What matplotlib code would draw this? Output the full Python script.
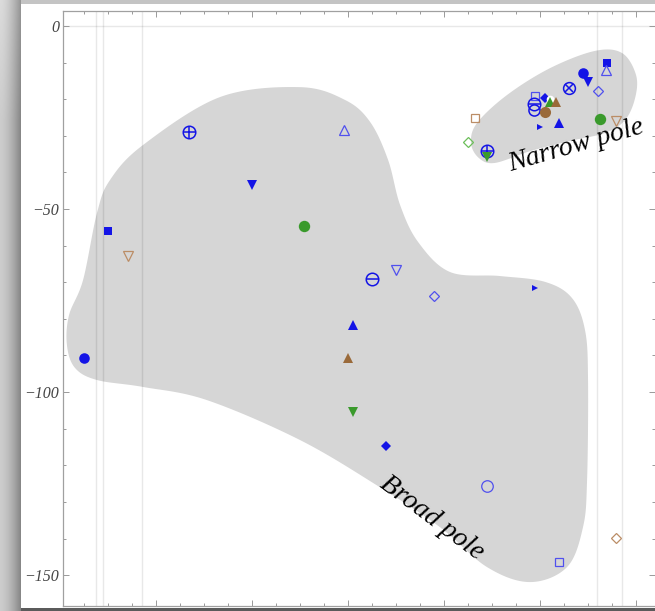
import numpy as np
import matplotlib
matplotlib.use("Agg")
import matplotlib.pyplot as plt
from matplotlib.ticker import MultipleLocator, FixedLocator

# ---------------- data ----------------
broad_x = [1.0, 2.0, 2.83, 5.375, 8.0, 10.17, 11.83, 13.0, 14.0, 15.58,
           12.2, 12.0, 12.2, 13.6, 17.8, 20.8, 23.17, 19.8]
broad_y = [-90.6, -56.0, -62.8, -29.0, -43.4, -54.6, -28.4, -69.0, -66.7, -73.8,
           -81.8, -90.7, -105.5, -114.8, -125.7, -146.4, -139.9, -71.6]
broad_style = ["blue_circle", "blue_square", "lbrown_down_open", "blue_oplus",
               "blue_down", "green_circle", "lblue_up_open", "blue_ominus",
               "lblue_down_open", "lblue_diamond_open", "blue_up", "brown_up",
               "green_down", "blue_diamond", "lblue_circle_open",
               "lblue_square_open", "lbrown_diamond_open", "blue_right"]

narrow_x = [17.3, 17.0, 17.8, 17.8, 19.8, 19.75, 19.75, 20.2, 20.4, 20.4,
            20.65, 20.2, 20.0, 20.8, 21.2, 21.8, 22.0, 22.4, 22.8, 22.75,
            22.5, 23.15]
narrow_y = [-25.1, -31.6, -34.1, -35.9, -19.1, -21.3, -23.0, -19.6, -19.9, -20.7,
            -20.7, -23.4, -27.7, -26.4, -17.0, -12.8, -15.4, -17.7, -10.0, -12.0,
            -25.4, -26.0]
narrow_style = ["lbrown_square_open", "lgreen_diamond_open", "blue_oplus",
                "green_down", "lblue_square_open", "blue_ominus",
                "blue_circle_open", "blue_diamond", "white_circle", "green_up",
                "brown_up", "brown_circle", "blue_right", "blue_up",
                "blue_otimes", "blue_circle", "blue_down", "lblue_diamond_open",
                "blue_square", "lblue_up_open", "green_circle", "lbrown_down_open"]

# outlines of the shaded regions (data units)
broad_outline_x = [10.0, 11.875, 12.92, 13.67, 14.17, 14.92, 16.25, 18.33, 20.21,
                   21.33, 21.875, 22.0, 21.96, 21.79, 21.125, 19.58, 17.79, 15.83,
                   13.33, 10.0, 6.125, 3.46, 1.54, 0.625, 0.29, 0.375, 0.96, 1.54,
                   2.08, 3.46, 6.67]
broad_outline_y = [-16.7, -20.2, -26.2, -36.6, -48.9, -59.0, -67.2, -68.3, -69.9,
                   -74.3, -83.1, -96.7, -124.0, -136.9, -147.8, -151.9, -147.8,
                   -136.9, -126.0, -113.1, -102.2, -98.6, -96.7, -93.4, -87.2,
                   -79.0, -69.4, -51.1, -42.1, -32.5, -19.4]
narrow_outline_x = [17.125, 17.375, 18.625, 20.42, 22.29, 23.42, 24.0, 23.96,
                    23.54, 22.71, 21.25, 19.58, 18.125, 17.46]
narrow_outline_y = [-32.0, -26.5, -18.85, -11.5, -6.8, -7.4, -13.4, -19.7,
                    -25.7, -29.2, -31.4, -34.2, -37.4, -36.1]

grid_x = [1.5, 1.79, 3.42, 22.375, 23.42]
ytick_vals = [0, -50, -100, -150]
ytick_labels = ["0", "\u221250", "\u2212100", "\u2212150"]

# ---------------- styles ----------------
B = "#1414e6"
LB = "#5050ee"
G = "#3a9a2c"
BR = "#9a6a3a"
LBR = "#bb8d66"
LG = "#6cbf5a"
OPEN_W = 0.9

def filled(m, ms, c):
    return [dict(marker=m, ms=ms, mfc=c, mec=c, mew=0)]

def opened(m, ms, c, w=OPEN_W):
    return [dict(marker=m, ms=ms, mfc="none", mec=c, mew=w)]

styles = {
    "blue_circle": filled("o", 7.6, B),
    "blue_square": filled("s", 5.6, B),
    "blue_down": filled("v", 7.0, B),
    "blue_up": filled("^", 7.0, B),
    "blue_diamond": filled("D", 5.6, B),
    "blue_right": filled(">", 3.8, B),
    "blue_circle_open": opened("o", 8.0, B, 1.1),
    "blue_oplus": opened("o", 9.0, B, 1.1) + opened("+", 9.0, B, 1.1),
    "blue_ominus": opened("o", 9.0, B, 1.1) + opened("_", 9.0, B, 1.1),
    "blue_otimes": opened("o", 8.5, B, 1.1) + opened("x", 5.6, B, 1.1),
    "lblue_up_open": opened("^", 7.0, LB),
    "lblue_down_open": opened("v", 7.0, LB),
    "lblue_diamond_open": opened("D", 5.0, LB),
    "lblue_circle_open": opened("o", 8.3, LB),
    "lblue_square_open": opened("s", 6.0, LB),
    "green_circle": filled("o", 8.2, G),
    "green_down": filled("v", 7.0, G),
    "green_up": filled("^", 7.0, G),
    "lgreen_diamond_open": opened("D", 5.2, LG),
    "brown_up": filled("^", 7.0, BR),
    "brown_circle": filled("o", 8.0, BR),
    "lbrown_down_open": opened("v", 7.0, LBR),
    "lbrown_diamond_open": opened("D", 5.4, LBR),
    "lbrown_square_open": opened("s", 6.0, LBR),
    "white_circle": filled("o", 5.5, "white"),
}

SERIF = ["Liberation Serif", "DejaVu Serif"]

# ---------------- figure ----------------
W, H = 655, 611
fig = plt.figure(figsize=(W / 100, H / 100), dpi=100)

# background panel with grey frame / shadow
bg = np.ones((H, W, 3))
xs = np.arange(21) / 20.0
strip = 0.80 - 0.27 * xs ** 1.6
bg[:, :21, :] = strip[None, :, None]
vert = np.clip(1 - np.arange(H) / 120.0, 0, 1) * 0.06
bg[:, :21, :] += vert[:, None, None]
bg[:4, 21:, :] = 0.77
bg[608:, 21:, :] = 0.36
bax = fig.add_axes([0, 0, 1, 1], zorder=-5)
bax.imshow(np.clip(bg, 0, 1), aspect="auto", interpolation="bilinear")
bax.axis("off")

left_px, right_px, top_px, bot_px = 62.5, 655, 11, 605.5
ax = fig.add_axes([left_px / W, (H - bot_px) / H, (right_px - left_px) / W,
                   (bot_px - top_px) / H])
ax.set_facecolor("none")
ax.set_xlim(0.104, 24.79)
ax.set_ylim(-158.3, 4.1)


def smooth_closed(px, py, n=24):
    P = np.column_stack([px, py])
    k = len(P)
    out = []
    t = np.linspace(0, 1, n, endpoint=False)[:, None]
    for i in range(k):
        p0, p1, p2, p3 = P[(i - 1) % k], P[i], P[(i + 1) % k], P[(i + 2) % k]
        seg = 0.5 * ((2 * p1) + (-p0 + p2) * t + (2 * p0 - 5 * p1 + 4 * p2 - p3) * t ** 2
                     + (-p0 + 3 * p1 - 3 * p2 + p3) * t ** 3)
        out.append(seg)
    out = np.vstack(out)
    return out[:, 0], out[:, 1]


for ox, oy in [(broad_outline_x, broad_outline_y), (narrow_outline_x, narrow_outline_y)]:
    sx, sy = smooth_closed(ox, oy)
    ax.fill(sx, sy, color="#d6d6d6", lw=0, zorder=0.5)

for gx in grid_x:
    ax.axvline(gx, color="black", alpha=0.09, lw=1.0, zorder=0.8)
ax.axhline(0, color="black", alpha=0.09, lw=1.0, zorder=0.8)

for xs_, ys_, st_ in [(broad_x, broad_y, broad_style), (narrow_x, narrow_y, narrow_style)]:
    for x, y, s in zip(xs_, ys_, st_):
        for spec in styles[s]:
            ax.plot([x], [y], linestyle="none", zorder=3, **spec)

ax.text(21.5, -32.6, "Narrow pole", rotation=16, rotation_mode="anchor",
        ha="center", va="center", fontsize=20, fontstyle="italic",
        family=SERIF, color="black", zorder=4)
ax.text(15.5, -134.4, "Broad pole", rotation=-37, rotation_mode="anchor",
        ha="center", va="center", fontsize=20, fontstyle="italic",
        family=SERIF, color="black", zorder=4)

# ticks and frame
ax.xaxis.set_major_locator(MultipleLocator(4))
ax.xaxis.set_minor_locator(MultipleLocator(1))
ax.yaxis.set_major_locator(FixedLocator(ytick_vals))
ax.yaxis.set_minor_locator(MultipleLocator(10))
ax.set_yticklabels(ytick_labels)
ax.set_xticklabels([])
ax.tick_params(which="both", direction="in", top=True, right=True,
               color="#999999", width=0.7, labelbottom=False)
ax.tick_params(which="major", length=4.2)
ax.tick_params(which="minor", length=2.5)
ax.tick_params(axis="y", which="major", pad=2.5, labelsize=11.5,
               labelcolor="#444444")
for lab in ax.get_yticklabels():
    lab.set_family(SERIF)
    lab.set_fontstyle("italic")
for side in ["left", "bottom", "top"]:
    ax.spines[side].set_color("#a0a0a0")
    ax.spines[side].set_linewidth(0.9)
ax.spines["right"].set_visible(False)

fig.savefig("out.png", dpi=100)
